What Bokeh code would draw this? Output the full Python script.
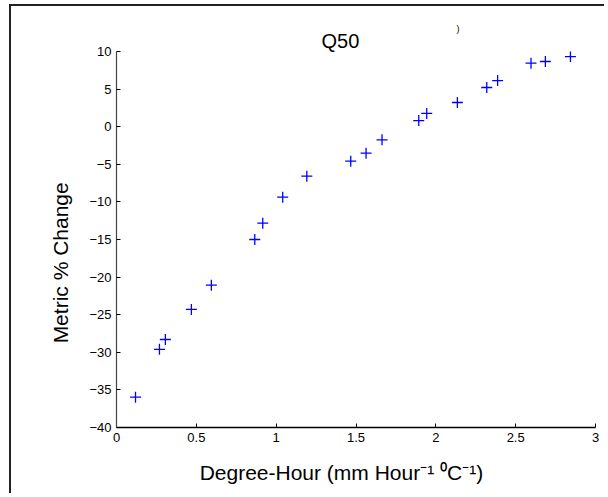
from bokeh.plotting import figure
from bokeh.models import Range1d, FixedTicker, Title
from bokeh.embed import file_html
from bokeh.resources import INLINE

# Data
degree_hour = [0.119, 0.269, 0.306, 0.469, 0.594, 0.866, 0.916, 1.041, 1.192,
               1.467, 1.563, 1.663, 1.893, 1.943, 2.135, 2.319, 2.387, 2.596,
               2.686, 2.843]
metric_change = [-35.97, -29.6, -28.3, -24.3, -21.08, -15.0, -12.83, -9.37, -6.58,
                 -4.58, -3.52, -1.75, 0.82, 1.76, 3.22, 5.21, 6.14, 8.45,
                 8.67, 9.33]
x_ticks = [0, 0.5, 1, 1.5, 2, 2.5, 3]
y_ticks = [-40, -35, -30, -25, -20, -15, -10, -5, 0, 5, 10]

FONT = "Liberation Sans"
NB = "\u00a0"

p = figure(width=595, height=489, output_backend="svg", toolbar_location=None,
           x_range=Range1d(0, 3), y_range=Range1d(-40, 10),
           min_border_left=105, min_border_top=45, min_border_right=11,
           min_border_bottom=68,
           styles={"border-left": "2px solid #222", "border-top": "2px solid #222",
                   "margin-left": "9px", "margin-top": "4px"})
p.outline_line_color = None
p.grid.visible = False

p.scatter(degree_hour, metric_change, marker="cross", size=11,
          line_color="#0000ff", line_width=1.3)

for ax, ticks in ((p.xaxis, x_ticks), (p.yaxis, y_ticks)):
    ax.ticker = FixedTicker(ticks=ticks)
    ax.major_tick_in = 4
    ax.major_tick_out = 0
    ax.minor_tick_in = 0
    ax.minor_tick_out = 0
    ax.major_label_text_font = FONT
    ax.major_label_text_font_size = "13px"
    ax.major_label_text_color = "black"
    ax.major_tick_line_color = "black"
    ax.axis_label_text_font = FONT
    ax.axis_label_text_font_size = "21px"
    ax.axis_label_text_font_style = "normal"
    ax.axis_label_text_color = "black"
p.xaxis.axis_line_color = "black"
p.xaxis.axis_line_width = 1.5
p.yaxis.axis_line_color = "#444444"
p.yaxis.axis_line_width = 1.2
p.xaxis.major_label_standoff = 5
p.yaxis.major_label_standoff = 5
p.xaxis.major_label_overrides = {0: "0", 1: "1", 2: "2", 3: "3"}

p.xaxis.axis_label = "Degree-Hour (mm Hour\u207b\u00b9 \u2070C\u207b\u00b9)" + NB * 5
p.xaxis.axis_label_standoff = 16
p.yaxis.axis_label = "Metric % Change" + NB * 8
p.yaxis.axis_label_standoff = 14

# Outer title: the stray fragment; inner title (next to the frame): "Q50"
p.title.text = ")"
p.title.text_font = FONT
p.title.text_font_size = "9px"
p.title.text_font_style = "normal"
p.title.text_color = "black"
p.title.align = "left"
p.title.offset = 340
p.title.standoff = -12
p.add_layout(Title(text="Q50", text_font=FONT, text_font_size="20px",
                   text_font_style="normal", text_color="black", align="left",
                   offset=205, standoff=0), "above")

open("out.html", "w").write(file_html(p, INLINE))
